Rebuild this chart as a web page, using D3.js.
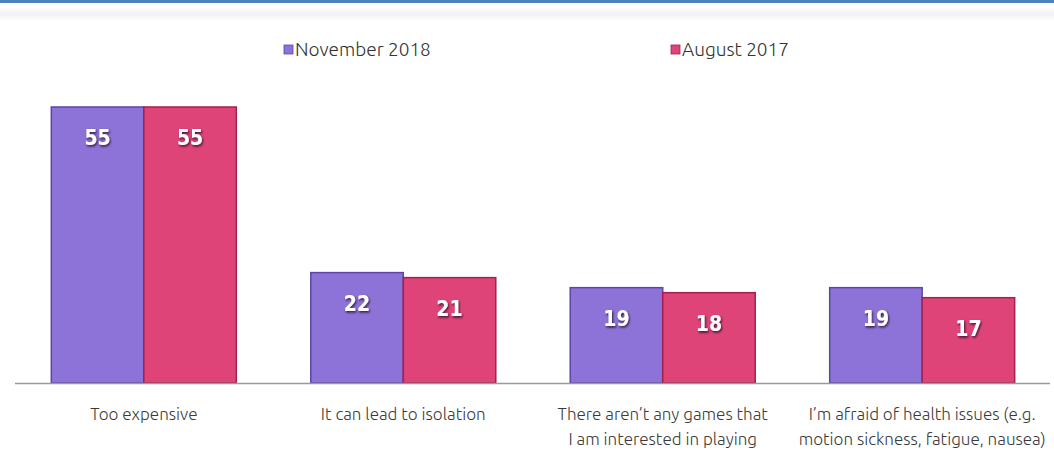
<!DOCTYPE html>
<html>
<head>
<meta charset="utf-8">
<script src="https://cdn.jsdelivr.net/npm/d3@7"></script>
<style>
  body { margin: 0; background: #fff; }
  #chart { width: 1054px; height: 455px; }
</style>
</head>
<body>
<div id="chart"></div>
<script>
'use strict'

var categories = [
  ['Too expensive'],
  ['It can lead to isolation'],
  ['There aren\u2019t any games that', 'I am interested in playing'],
  ['I\u2019m afraid of health issues (e.g.', 'motion sickness, fatigue, nausea)']
];
var seriesNames = ['November 2018', 'August 2017'];
var nov2018 = [55, 22, 19, 19];
var aug2017 = [55, 21, 18, 17];

(function() {
  var dimensions = { width: 1054, height: 455 };
  var colors = ['#8d73d7', '#df4479'];
  var strokes = ['#5b46a8', '#a3204f'];

  var svg = d3.select('#chart').append('svg')
    .attr('width', dimensions.width)
    .attr('height', dimensions.height);

  // top border + faint header band
  var grad = svg.append('defs').append('linearGradient')
    .attr('id', 'band').attr('x1', 0).attr('x2', 0).attr('y1', 0).attr('y2', 1);
  grad.append('stop').attr('offset', '0%').attr('stop-color', '#ffffff');
  grad.append('stop').attr('offset', '50%').attr('stop-color', '#f1f1f4');
  grad.append('stop').attr('offset', '100%').attr('stop-color', '#ffffff');
  svg.append('rect').attr('x', 0).attr('y', 7).attr('width', dimensions.width).attr('height', 14)
    .attr('fill', 'url(#band)');
  svg.append('rect').attr('x', 0).attr('y', 0).attr('width', dimensions.width).attr('height', 3)
    .attr('fill', '#4f81bd');

  var x0 = d3.scaleBand()
    .domain(d3.range(categories.length))
    .range([15, 1051])
    .paddingInner(0.287)
    .paddingOuter(0.14);

  var x1 = d3.scaleBand()
    .domain([0, 1])
    .range([0, x0.bandwidth()]);

  var y = d3.scaleLinear()
    .domain([0, 55])
    .range([383, 107]);

  var rows = categories.map(function(c, i) { return [nov2018[i], aug2017[i]]; });

  var groups = svg.selectAll('g.group')
    .data(rows)
    .enter().append('g')
    .attr('class', 'group')
    .attr('transform', function(d, i) { return 'translate(' + x0(i) + ',0)'; });

  groups.selectAll('rect')
    .data(function(d) { return d; })
    .enter().append('rect')
    .attr('x', function(d, j) { return x1(j); })
    .attr('y', function(d) { return y(d); })
    .attr('width', x1.bandwidth())
    .attr('height', function(d) { return y(0) - y(d); })
    .attr('fill', function(d, j) { return colors[j]; })
    .attr('stroke', function(d, j) { return strokes[j]; })
    .attr('stroke-width', 1.5);

  // shadow filter for value labels
  var f = svg.select('defs').append('filter').attr('id', 'shadow')
    .attr('x', '-30%').attr('y', '-30%').attr('width', '160%').attr('height', '160%');
  f.append('feDropShadow').attr('dx', 1).attr('dy', 1.5).attr('stdDeviation', 0.8)
    .attr('flood-color', '#2a0f2a').attr('flood-opacity', 0.9);

  groups.selectAll('text.val')
    .data(function(d) { return d; })
    .enter().append('text')
    .attr('class', 'val')
    .attr('x', function(d, j) { return x1(j) + x1.bandwidth() / 2; })
    .attr('y', function(d) { return y(d) + 38; })
    .attr('text-anchor', 'middle')
    .attr('fill', '#ffffff')
    .attr('filter', 'url(#shadow)')
    .style('font-family', '"Liberation Sans Narrow", "DejaVu Sans Condensed", "DejaVu Sans", sans-serif')
    .style('font-stretch', 'condensed')
    .style('font-weight', 'bold')
    .style('font-size', '21px')
    .text(function(d) { return d; });

  // baseline
  svg.append('line')
    .attr('x1', 15).attr('x2', 1050)
    .attr('y1', y(0) + 0.5).attr('y2', y(0) + 0.5)
    .attr('stroke', '#9a9a9a').attr('stroke-width', 1.5);

  // category labels
  var labelFont = '"Ubuntu", "Lato", "Open Sans", sans-serif';
  categories.forEach(function(lines, i) {
    var t = svg.append('text')
      .attr('text-anchor', 'middle')
      .attr('fill', '#3a3a3a')
      .style('font-family', labelFont)
      .style('font-weight', 300)
      .style('font-size', '17px');
    lines.forEach(function(line, k) {
      t.append('tspan')
        .attr('x', x0(i) + x0.bandwidth() / 2)
        .attr('y', 420 + k * 25)
        .text(line);
    });
  });

  // legend
  var legendX = [284, 671];
  seriesNames.forEach(function(name, i) {
    svg.append('rect')
      .attr('x', legendX[i]).attr('y', 45)
      .attr('width', 9).attr('height', 9)
      .attr('fill', colors[i])
      .attr('stroke', strokes[i]).attr('stroke-width', 0.8);
    svg.append('text')
      .attr('x', legendX[i] + 11).attr('y', 56)
      .attr('fill', '#333')
      .style('font-family', labelFont)
      .style('font-weight', 300)
      .style('font-size', '19px')
      .text(name);
  });
})();
</script>
</body>
</html>
